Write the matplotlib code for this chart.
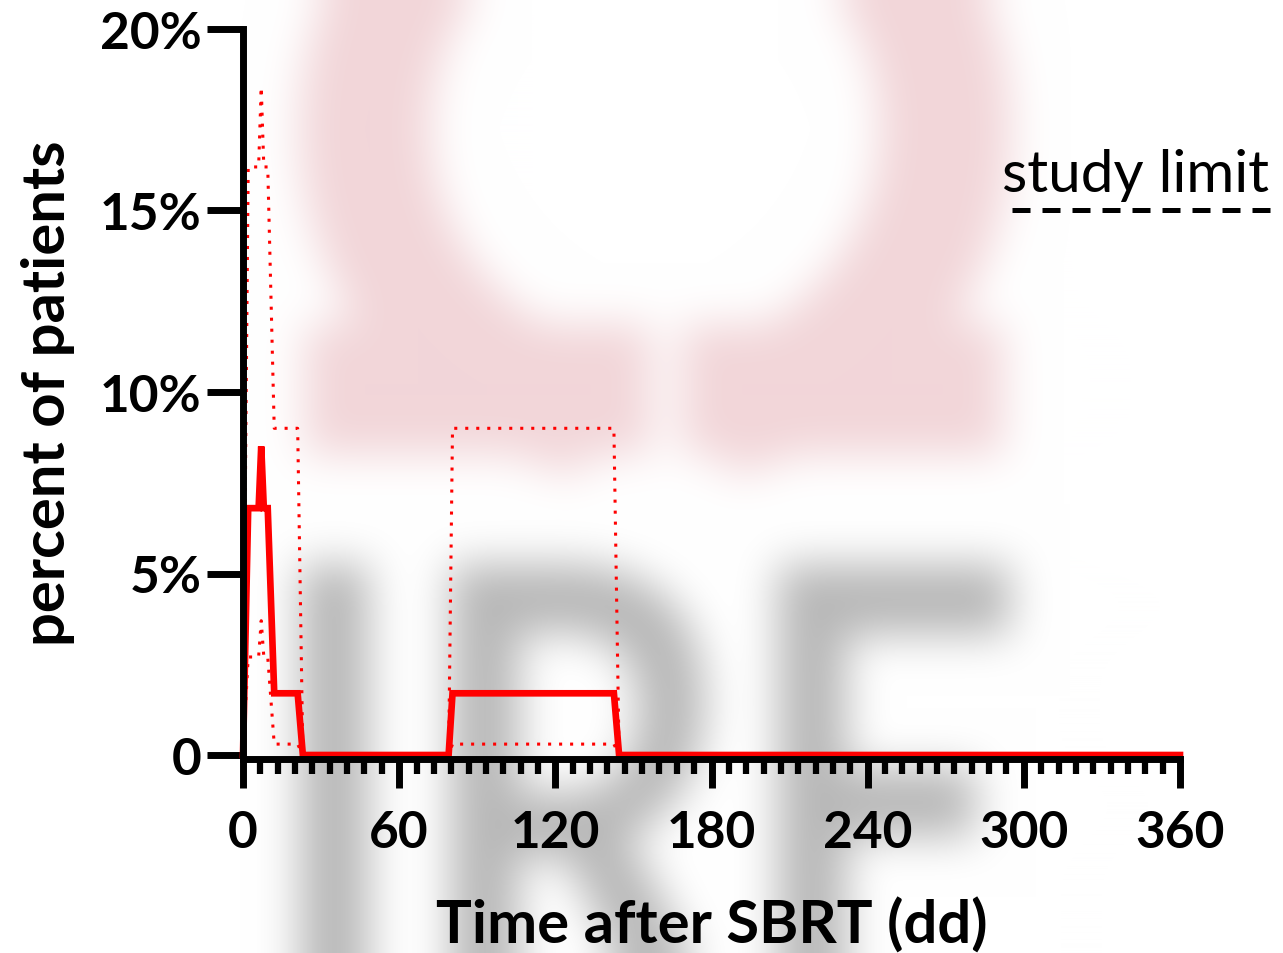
import numpy as np
import matplotlib
matplotlib.use("Agg")
import matplotlib.pyplot as plt
from matplotlib.lines import Line2D
from matplotlib.patches import Wedge, Rectangle, PathPatch
from matplotlib.textpath import TextPath
from matplotlib.font_manager import FontProperties
from matplotlib.transforms import IdentityTransform, Affine2D
from matplotlib.ticker import AutoMinorLocator

plt.rcParams['font.family'] = ['Lato', 'DejaVu Sans']

# time after SBRT (days) and share of patients (%), with confidence bounds
days = [0, 2, 6, 7, 8, 9.5, 12, 21, 23, 79, 80.5, 142.5, 144.5, 360]
pct = [0, 6.8, 6.8, 8.5, 6.8, 6.8, 1.7, 1.7, 0, 0, 1.7, 1.7, 0, 0]
ci_low = [0, 2.7, 2.7, 3.7, 2.7, 2.7, 0.3, 0.3, 0, 0, 0.3, 0.3, 0, 0]
ci_high = [0, 16.2, 16.2, 18.4, 16.2, 16.2, 9.0, 9.0, 0, 0, 9.0, 9.0, 0, 0]

xticks = [0, 60, 120, 180, 240, 300, 360]
yticks = [0, 5, 10, 15, 20]
ytick_labels = ["0", "5%", "10%", "15%", "20%"]

W, H = 1283, 954


def box_blur(a, r):
    for axis in (0, 1):
        pad = [(0, 0)] * a.ndim
        pad[axis] = (r + 1, r)
        c = np.cumsum(np.pad(a, pad, mode='edge'), axis=axis)
        n = c.shape[axis]
        a = (np.take(c, range(2 * r + 1, n), axis=axis)
             - np.take(c, range(0, n - 2 * r - 1), axis=axis)) / (2 * r + 1)
    return a


# faint blurred logo in the background
wm = plt.figure(figsize=(W / 100, H / 100), dpi=100)
pink = (0.95, 0.84, 0.85)
ident = IdentityTransform()
wm.add_artist(Wedge((655, H - 130), 355, -78, 258, width=130, color=pink, transform=ident))
wm.add_artist(Rectangle((305, H - 455), 345, 130, color=pink, transform=ident))
wm.add_artist(Rectangle((682, H - 455), 320, 130, color=pink, transform=ident))
tp = TextPath((0, 0), "IRE", size=1, prop=FontProperties(family='Lato', weight='bold'))
ext = tp.get_extents()
tr = (Affine2D().translate(-ext.x0, -ext.y1)
      .scale(710 / ext.width, 480 / ext.height)
      .translate(300, H - 565))
wm.add_artist(PathPatch(tr.transform_path(tp), color=(0.72, 0.72, 0.72), lw=0, transform=ident))
wm.canvas.draw()
img = np.asarray(wm.canvas.buffer_rgba())[..., :3].astype(float) / 255
plt.close(wm)
for _ in range(3):
    img = box_blur(img, 20)
img = np.clip(img, 0, 1)

fig = plt.figure(figsize=(W / 100, H / 100), dpi=100)
fig.figimage(img, 0, 0, zorder=-10)
ax = fig.add_axes([243 / W, 1 - 756 / H, (1180 - 243) / W, (756 - 30) / H])
ax.set_facecolor('none')

ax.plot(days, ci_high, color='red', lw=2.2, linestyle=(0, (1, 2.6)), clip_on=False)
ax.plot(days, ci_low, color='red', lw=2.2, linestyle=(0, (1, 2.6)), clip_on=False)
ax.plot(days, pct, color='red', lw=4.8, clip_on=False, solid_joinstyle='miter')

ax.set_xlim(0, 360)
ax.set_ylim(0, 20)
ax.set_xticks(xticks)
ax.xaxis.set_minor_locator(AutoMinorLocator(9))
ax.set_yticks(yticks)
ax.set_yticklabels(ytick_labels)

for s in ('top', 'right'):
    ax.spines[s].set_visible(False)
for s in ('left', 'bottom'):
    ax.spines[s].set_linewidth(5)
    ax.spines[s].set_capstyle('projecting')
ax.spines['bottom'].set_position(('outward', 3))

ax.tick_params(axis='x', which='major', length=21, width=5, pad=15, labelsize=37, direction='out')
ax.tick_params(axis='x', which='minor', length=11, width=4.5, direction='out')
ax.tick_params(axis='y', which='major', length=26, width=5, pad=4, labelsize=37)
for lab in ax.get_xticklabels() + ax.get_yticklabels():
    lab.set_fontweight('bold')

ax.set_xlabel("Time after SBRT (dd)", fontsize=43, fontweight='bold', labelpad=29)
ax.set_ylabel("percent of patients", fontsize=43, fontweight='bold', labelpad=18)

fig.text(1135 / W, 1 - 175 / H, "study limit", fontsize=42, ha='center', va='center')
fig.add_artist(Line2D([1012 / W, 1278 / W], [1 - 211 / H] * 2, transform=fig.transFigure,
                      color='black', lw=3.6, dashes=(3.6, 2.4)))

fig.savefig("out.png", dpi=100)
